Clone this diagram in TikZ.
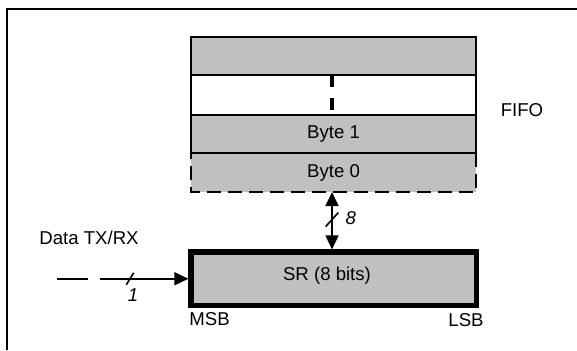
\documentclass[tikz,border=0pt]{standalone}
\usepackage{fontspec}
\setmainfont{Liberation Sans}
\usetikzlibrary{arrows.meta,calc}
\definecolor{fgray}{HTML}{C0C0C0}
\begin{document}
\begin{tikzpicture}[x=0.5pt,y=-0.5pt,
  font=\fontsize{9.3}{11}\selectfont,
  row/.style={draw=black, line width=0.8pt, fill=fgray, minimum width=142.5pt, inner sep=0pt, outer sep=0pt},
  srbox/.style={draw=black, line width=2.6pt, fill=fgray, minimum width=142.75pt, minimum height=26.75pt, inner sep=0pt},
  conn/.style={line width=0.8pt},
  tip/.style={-{Triangle[length=7pt,width=6.5pt]}},
  lbl/.style={inner sep=0pt},
  frame/.style={line width=1pt}]
\useasboundingbox (0,0) rectangle (577,350);
% frame
\coordinate (fr1) at (577,9);
\coordinate (fr2) at (7,350);
\draw[frame] (fr1) -| (fr2);
% FIFO rows
\node[row, minimum height=19pt] (r3) at (333.5,56) {};
\node[row, fill=white, minimum height=20pt] (r2) at (333.5,95) {};
\node[row, minimum height=19pt] (r1) at (333.5,134) {Byte 1};
\node[row, draw=none, minimum height=19.5pt] (r0) at (333.5,172.5) {Byte 0};
\draw[line width=0.8pt, dash pattern=on 7pt off 3.5pt, dash phase=4pt] (r0.north west) -- (r0.south west) -- (r0.south east) -- (r0.north east);
\draw[line width=0.8pt] (r1.south west) -- (r1.south east);
% dashed continuation marker
\draw[line width=2pt, dash pattern=on 5.8pt off 5.7pt] ($(r2.north)+(-1.5,0)$) -- ++(0,37);
\node[lbl] (fifo) at (522,110) {FIFO};
% shift register
\node[srbox] (sr) at (333.75,278.75) {};
\node[lbl] (srtxt) at (327,276) {SR (8 bits)};
\node[lbl, anchor=west] (msb) at (189,319) {MSB};
\node[lbl, anchor=east] (lsb) at (484,320) {LSB};
% vertical bus
\coordinate (vt) at ($(r0.south)+(-1.5,0)$);
\coordinate (vb) at (vt |- sr.north);
\draw[conn, {Triangle[length=7pt,width=6.5pt]}-{Triangle[length=7pt,width=6.5pt]}] (vt) -- (vb);
\draw[conn] ($(vt)!0.48!(vb)$) +(-6.3,7) -- +(6.3,-7);
\node[lbl] (eight) at (350.7,218) {\itshape 8};
% input line
\coordinate (a1) at (57,278.75);
\coordinate (a2) at (88,278.75);
\coordinate (a3) at (100,278.75);
\draw[conn] (a1) -- (a2);
\draw[conn, tip] (a3) -- (sr.west);
\draw[conn] (130,278.75) +(-3.7,6) -- +(3.7,-6);
\node[lbl] (one) at (133,295) {\itshape 1};
\node[lbl] (data) at (89,238) {Data TX/RX};
\end{tikzpicture}
\end{document}
